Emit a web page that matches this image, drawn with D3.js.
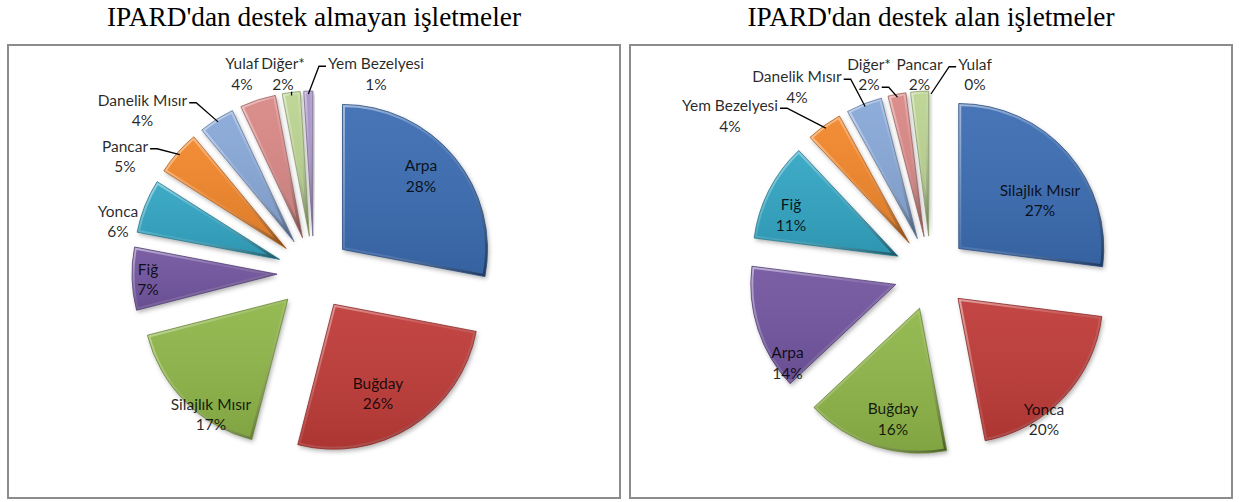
<!DOCTYPE html>
<html>
<head>
<meta charset="utf-8">
<script src="https://cdn.jsdelivr.net/npm/d3@7"></script>
<style>
  body { margin: 0; background: #fff; }
  .lbl { font-family: Lato, "Open Sans", sans-serif; font-size: 15.5px; fill: #000; fill-opacity: 0.85; }
  .title { font-family: "Liberation Serif", "Times New Roman", serif; font-size: 27.3px; fill: #000; }
</style>
</head>
<body>
<svg id="chart" width="1239" height="502"></svg>
<script>
// ---- data ----
const titles = ["IPARD'dan destek almayan işletmeler", "IPARD'dan destek alan işletmeler"];

const cropsNo  = ["Arpa", "Buğday", "Silajlık Mısır", "Fiğ", "Yonca", "Pancar", "Danelik Mısır", "Yulaf", "Diğer*", "Yem Bezelyesi"];
const sharesNo = [28, 26, 17, 7, 6, 5, 4, 4, 2, 1];

const cropsYes  = ["Silajlık Mısır", "Yonca", "Buğday", "Arpa", "Fiğ", "Yem Bezelyesi", "Danelik Mısır", "Diğer*", "Pancar", "Yulaf"];
const sharesYes = [27, 20, 16, 14, 11, 4, 4, 2, 2, 0];

const palette = ["#3b6cb2", "#bf3b38", "#8fb649", "#7255a0", "#32a5c3", "#f2862a",
                 "#88a8d8", "#d98886", "#bbd491", "#a893c8"];

// label anchors (text centre relative to pie centre) and leader lines
const labelsNo = [[107, -97.5], [64, 120], [-103, 141], [-166, 6], [-196, -52],
                  [-189, -117], [-171.5, -163], [-72, -199.5], [-31, -199.5], [62, -199.5]];
const leadersNo = [{i: 5, line: 0, side: "r"}, {i: 6, line: 0, side: "r"},
                   {i: 8, line: 1, side: "b"}, {i: 9, line: 0, side: "l"}];

const labelsYes = [[109, -73], [113, 146], [-38, 145.5], [-143.5, 89.5], [-140, -58.5],
                   [-201, -157.5], [-134, -186.5], [-62, -199], [-11.5, -199], [44, -199]];
const leadersYes = [{i: 5, line: 0, side: "r"}, {i: 6, line: 0, side: "r"},
                    {i: 7, line: 1, side: "r"}, {i: 9, line: 0, side: "l"}];

const panels = [
  {title: titles[0], crops: cropsNo, shares: sharesNo, box: [8, 45, 612, 453], labels: labelsNo, leaders: leadersNo},
  {title: titles[1], crops: cropsYes, shares: sharesYes, box: [630, 45, 602, 453], labels: labelsYes, leaders: leadersYes}
];

// ---- drawing ----
const svg = d3.select("#chart");
const defs = svg.append("defs");

const radius = 145, explode = 37, lineGap = 20.5;

var shadow = defs.append("filter").attr("id", "shadow")
  .attr("x", "-20%").attr("y", "-20%").attr("width", "140%").attr("height", "140%");
shadow.append("feDropShadow").attr("dx", 1.5).attr("dy", 2.5).attr("stdDeviation", 2)
  .attr("flood-color", "#000").attr("flood-opacity", 0.3);

var bevel = defs.append("linearGradient").attr("id", "bevel")
  .attr("x1", 0).attr("y1", 0).attr("x2", 1).attr("y2", 1);
bevel.append("stop").attr("offset", 0).attr("stop-color", "#fff").attr("stop-opacity", 0.5);
bevel.append("stop").attr("offset", 0.45).attr("stop-color", "#fff").attr("stop-opacity", 0.1);
bevel.append("stop").attr("offset", 1).attr("stop-color", "#000").attr("stop-opacity", 0.45);

var shade = defs.append("linearGradient").attr("id", "shade")
  .attr("x1", 0).attr("y1", 0).attr("x2", 0).attr("y2", 1);
shade.append("stop").attr("offset", 0).attr("stop-color", "#fff").attr("stop-opacity", 0.06);
shade.append("stop").attr("offset", 1).attr("stop-color", "#000").attr("stop-opacity", 0.1);

const pie = d3.pie().sort(null).value(d => d.v);
const arc = d3.arc().innerRadius(0).outerRadius(radius);

panels.forEach(function(p, pi) {
  const [bx, by, bw, bh] = p.box;
  const cx = bx + bw / 2, cy = by + bh / 2 + 1.5;

  svg.append("text").attr("class", "title")
    .attr("x", cx).attr("y", 26).attr("text-anchor", "middle")
    .text(p.title);

  svg.append("rect")
    .attr("x", bx).attr("y", by).attr("width", bw).attr("height", bh)
    .attr("fill", "#fff").attr("stroke", "#8c8c8c").attr("stroke-width", 2);

  const rows = p.crops.map((c, i) => ({name: c, v: p.shares[i], i: i}));
  const arcs = pie(rows);
  const mid = d => (d.startAngle + d.endAngle) / 2;
  const dir = a => [Math.sin(a), -Math.cos(a)];

  const g = svg.append("g").attr("transform", `translate(${cx},${cy})`);

  const slices = g.selectAll(".slice").data(arcs.filter(d => d.value > 0)).enter().append("g")
    .attr("class", "slice")
    .attr("transform", d => {
      const u = dir(mid(d));
      return `translate(${u[0] * explode},${u[1] * explode})`;
    });

  slices.append("clipPath").attr("id", d => `clip${pi}_${d.data.i}`)
    .append("path").attr("d", arc);

  slices.append("path").attr("d", arc)
    .attr("fill", d => palette[d.data.i])
    .attr("filter", "url(#shadow)");
  slices.append("path").attr("d", arc).attr("fill", "url(#shade)");
  slices.append("path").attr("d", arc)
    .attr("fill", "none")
    .attr("stroke", "url(#bevel)").attr("stroke-width", 5)
    .attr("clip-path", d => `url(#clip${pi}_${d.data.i})`);
  slices.append("path").attr("d", arc)
    .attr("fill", "none")
    .attr("stroke", d => d3.color(palette[d.data.i]).darker(0.9))
    .attr("stroke-width", 0.8);

  // labels
  const lg = g.append("g");
  const boxes = {};
  arcs.forEach(function(d) {
    const [lx, ly] = p.labels[d.data.i];
    const lines = [d.data.name, d.data.v + "%"];
    boxes[d.data.i] = lines.map(function(t, k) {
      const yy = ly + (k === 0 ? -lineGap / 2 : lineGap / 2);
      const el = lg.append("text").attr("class", "lbl")
        .attr("x", lx).attr("y", yy)
        .attr("text-anchor", "middle").attr("dominant-baseline", "central")
        .text(t);
      const w = el.node().getComputedTextLength();
      return {x0: lx - w / 2, x1: lx + w / 2, y: yy};
    });
  });

  // leader lines
  p.leaders.forEach(function(L) {
    const d = arcs[L.i];
    const u = dir(mid(d));
    const end = [u[0] * (explode + radius - 3), u[1] * (explode + radius - 3)];
    const b = boxes[L.i][L.line];
    let pts;
    if (L.side === "r") {
      pts = [[b.x1 + 2, b.y + 3], [b.x1 + 9, b.y + 3], end];
    } else if (L.side === "l") {
      pts = [[b.x0 - 2, b.y + 3], [b.x0 - 9, b.y + 3], end];
    } else {
      pts = [[end[0], b.y + 8], end];
    }
    g.append("path").attr("d", d3.line()(pts))
      .attr("fill", "none").attr("stroke", "#000").attr("stroke-width", 1.3);
  });
});
</script>
</body>
</html>
